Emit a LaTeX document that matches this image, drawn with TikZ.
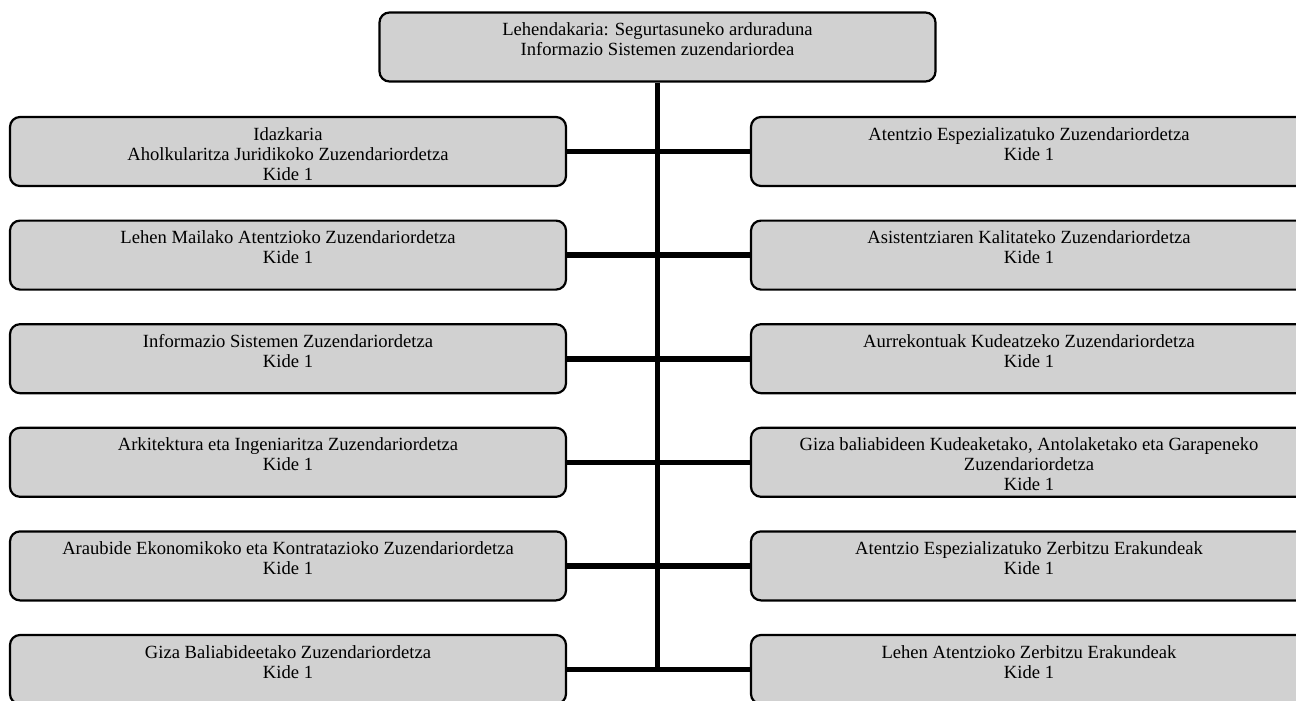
\documentclass[tikz,border=0pt]{standalone}
\usepackage{fontspec}
\setmainfont{Liberation Serif}
\usepackage{tikz}
\usetikzlibrary{positioning}
\definecolor{boxgray}{gray}{0.82}
\newcommand{\unitfont}{\fontsize{9.3pt}{10pt}\selectfont}
\tikzset{unit/.style = {draw,line width=1.1pt,rounded corners=5pt,fill=boxgray,inner sep=0pt,font=\unitfont,
    execute at begin node={\begin{minipage}[c][34.5pt][t]{278pt}\centering\rule{0pt}{11.5pt}},
    execute at end node={\end{minipage}}},
  link/.style = {line width=2.8pt}}

\begin{document}
\begin{tikzpicture}[x=0.5pt,y=-0.5pt]
        \useasboundingbox (0,0) rectangle (1296,701);

        \node [unit] (head) at (657.5, 47) {Lehendakaria: Segurtasuneko arduraduna\\Informazio Sistemen zuzendariordea};

        \node [unit] (L1) at (288, 151.5) {Idazkaria\\Aholkularitza Juridikoko Zuzendariordetza\\Kide 1};
        \node [unit] (L2) at (288, 255.1) {Lehen Mailako Atentzioko Zuzendariordetza\\Kide 1};
        \node [unit] (L3) at (288, 358.7) {Informazio Sistemen Zuzendariordetza\\Kide 1};
        \node [unit] (L4) at (288, 462.3) {Arkitektura eta Ingeniaritza Zuzendariordetza\\Kide 1};
        \node [unit] (L5) at (288, 565.9) {Araubide Ekonomikoko eta Kontratazioko Zuzendariordetza\\Kide 1};
        \node [unit] (L6) at (288, 669.5) {Giza Baliabideetako Zuzendariordetza\\Kide 1};

        \node [unit] (R1) at (1029, 151.5) {Atentzio Espezializatuko Zuzendariordetza\\Kide 1};
        \node [unit] (R2) at (1029, 255.1) {Asistentziaren Kalitateko Zuzendariordetza\\Kide 1};
        \node [unit] (R3) at (1029, 358.7) {Aurrekontuak Kudeatzeko Zuzendariordetza\\Kide 1};
        \node [unit] (R4) at (1029, 462.3) {Giza baliabideen Kudeaketako, Antolaketako eta Garapeneko\\Zuzendariordetza\\Kide 1};
        \node [unit] (R5) at (1029, 565.9) {Atentzio Espezializatuko Zerbitzu Erakundeak\\Kide 1};
        \node [unit] (R6) at (1029, 669.5) {Lehen Atentzioko Zerbitzu Erakundeak\\Kide 1};

        % trunk and branches
        \draw [link] (head.south) -- (head.south |- L6.east);
        \draw [link] (L1.east) -- (R1.west) (L2.east) -- (R2.west) (L3.east) -- (R3.west)
                     (L4.east) -- (R4.west) (L5.east) -- (R5.west) (L6.east) -- (R6.west);
\end{tikzpicture}
\end{document}
